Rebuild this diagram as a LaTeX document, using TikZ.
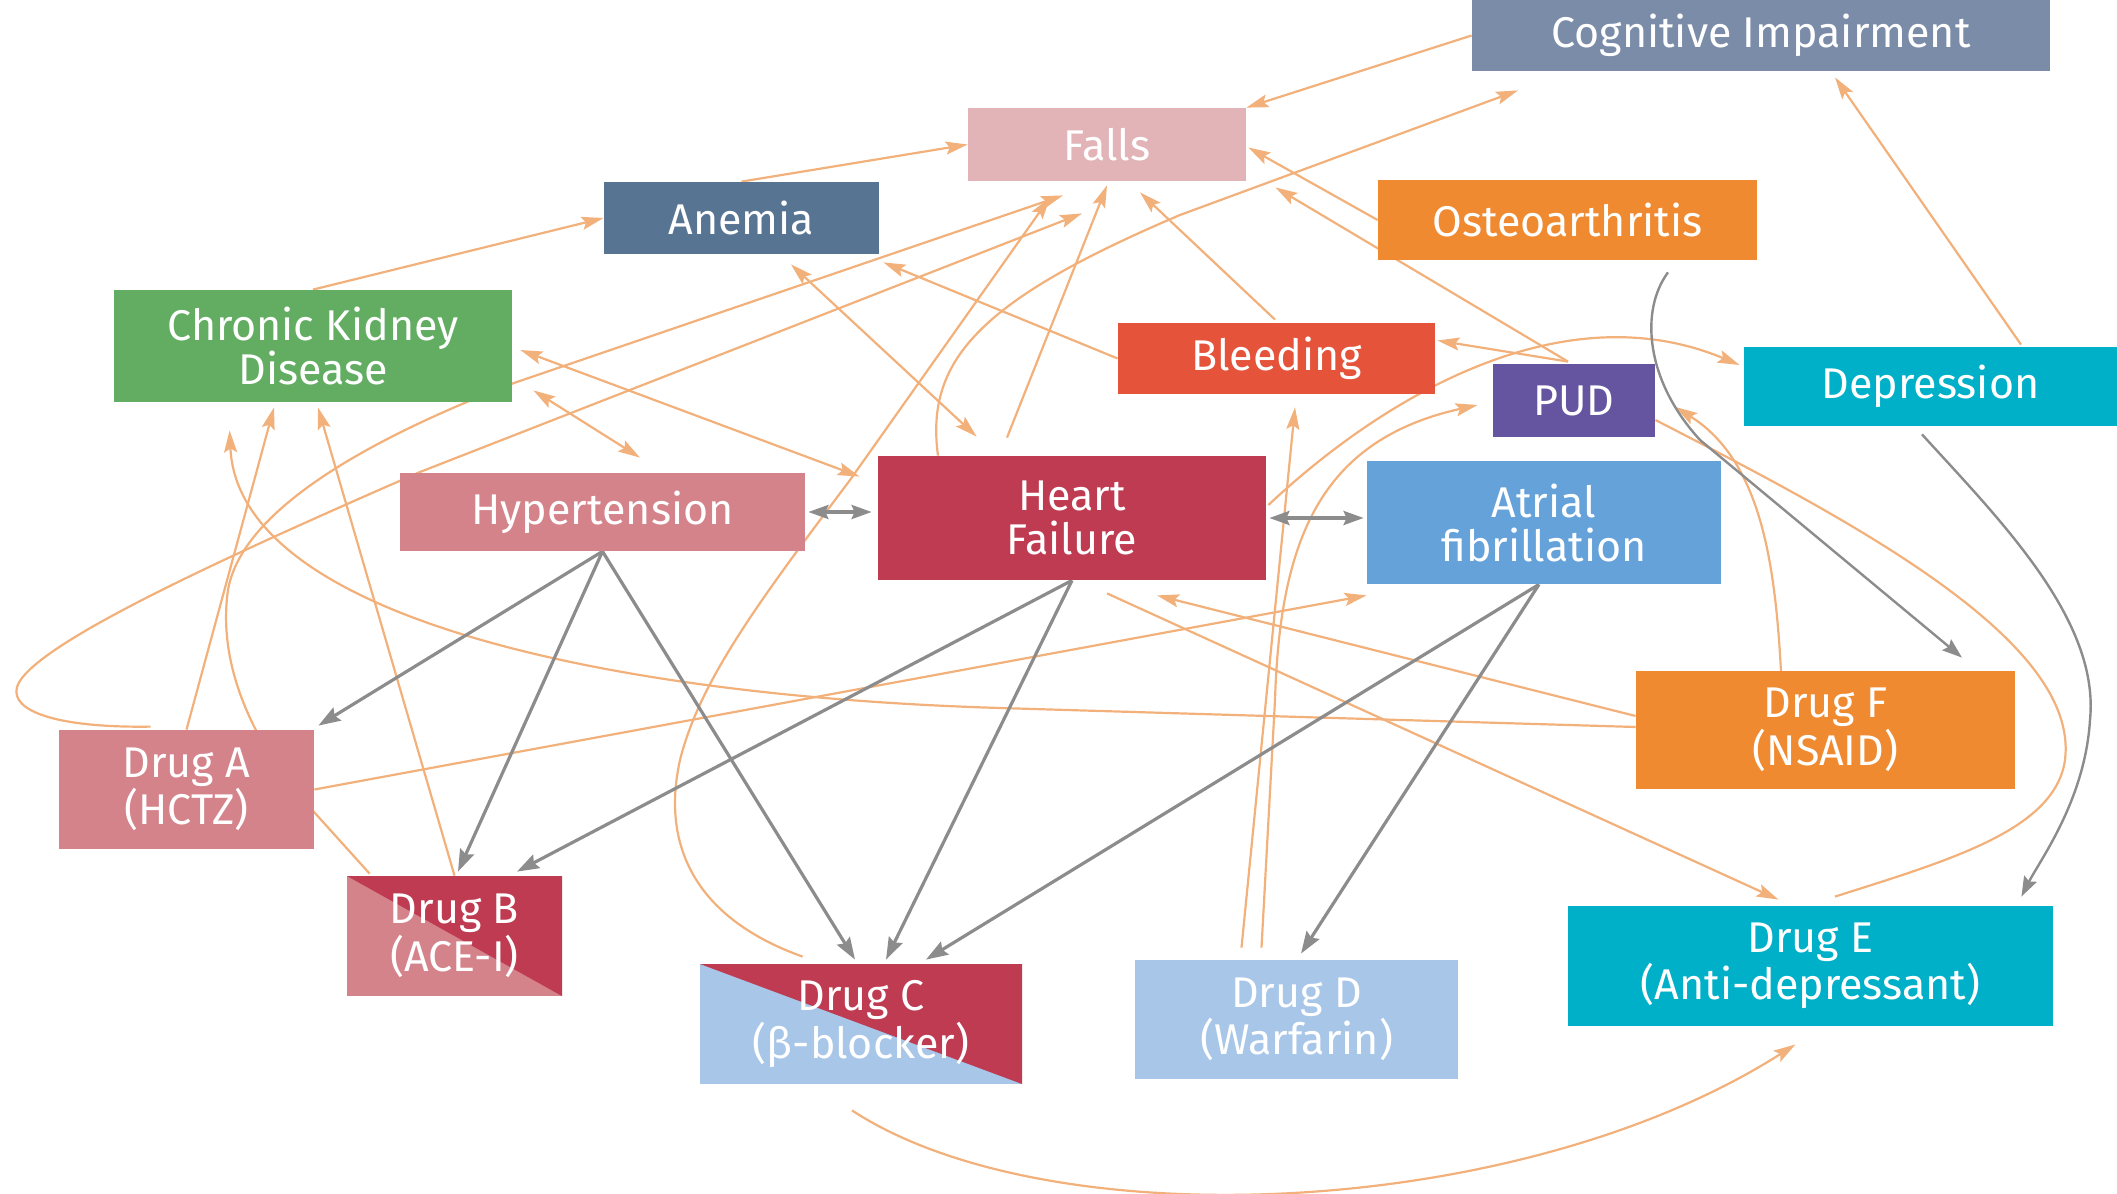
\documentclass[tikz,border=0pt]{standalone}
\usepackage{fontspec}
\setmainfont{Fira Sans}
\usetikzlibrary{arrows.meta,calc}
\pgfdeclarelayer{bg}
\pgfsetlayers{bg,main}
\definecolor{cLine}{HTML}{F2B07A}
\definecolor{cGray}{HTML}{8C8C8C}
\definecolor{cCog}{HTML}{7A8CA8}
\definecolor{cFalls}{HTML}{E2B4B8}
\definecolor{cAnemia}{HTML}{587493}
\definecolor{cOsteo}{HTML}{EF8A30}
\definecolor{cCkd}{HTML}{63AD63}
\definecolor{cBleed}{HTML}{E5533B}
\definecolor{cPud}{HTML}{6555A0}
\definecolor{cDepr}{HTML}{00B0C8}
\definecolor{cHyp}{HTML}{D4838B}
\definecolor{cHf}{HTML}{BF3B51}
\definecolor{cAf}{HTML}{64A2D9}
\definecolor{cLblue}{HTML}{A8C6E8}
\begin{document}
\begin{tikzpicture}[x=0.5pt,y=-0.5pt,
  box/.style={rectangle, inner sep=0pt, text=white, align=center,
    font=\fontsize{21.5}{22}\selectfont},
  split/.style 2 args={path picture={
    \fill[#1] (path picture bounding box.south west) rectangle (path picture bounding box.north east);
    \fill[#2] (path picture bounding box.north west) -- (path picture bounding box.north east)
      -- (path picture bounding box.south east) -- cycle;}},
  oe/.style={draw=cLine, line width=1.1pt, -{Stealth[length=11pt,width=6.5pt,inset=2pt]}},
  oeb/.style={draw=cLine, line width=1.1pt, {Stealth[length=11pt,width=6.5pt,inset=2pt]}-{Stealth[length=11pt,width=6.5pt,inset=2pt]}},
  oen/.style={draw=cLine, line width=1.1pt},
  ge/.style={draw=cGray, line width=1.6pt, -{Stealth[length=11pt,width=7.5pt,inset=1.5pt]}},
  geb/.style={draw=cGray, line width=1.6pt, {Stealth[length=10pt,width=7pt,inset=1.5pt]}-{Stealth[length=10pt,width=7pt,inset=1.5pt]}},
  gec/.style={draw=cGray, line width=1.2pt, -{Stealth[length=10pt,width=7pt,inset=1.5pt]}},
]
\useasboundingbox (0,0) rectangle (2117,1194);

% nodes
\node[box, fill=cCog, minimum width=289pt, minimum height=35.5pt] (cog) at (1761,35.5) {Cognitive Impairment};
\node[box, fill=cFalls, minimum width=139pt, minimum height=36.5pt] (falls) at (1107,144.5) {Falls};
\node[box, fill=cAnemia, minimum width=137.5pt, minimum height=36pt] (anemia) at (741.5,218) {Anemia};
\node[box, fill=cOsteo, minimum width=189.5pt, minimum height=40pt] (osteo) at (1567.5,220) {Osteoarthritis};
\node[box, fill=cCkd, minimum width=199pt, minimum height=56pt] (ckd) at (313,346) {Chronic Kidney\\Disease};
\node[box, fill=cBleed, minimum width=158.5pt, minimum height=35.5pt] (bleed) at (1276.5,358.5) {Bleeding};
\node[box, fill=cPud, minimum width=81pt, minimum height=36.5pt] (pud) at (1574,400.5) {PUD};
\node[box, fill=cDepr, minimum width=186.5pt, minimum height=39.5pt] (depr) at (1930.5,386.5) {Depression};
\node[box, fill=cHyp, minimum width=202.5pt, minimum height=39pt] (hyp) at (602.5,512) {Hypertension};
\node[box, fill=cHf, minimum width=194pt, minimum height=62pt] (hf) at (1072,518) {Heart\\Failure};
\node[box, fill=cAf, minimum width=177pt, minimum height=61.5pt] (af) at (1544,522.5) {Atrial\\fibrillation};
\node[box, fill=cHyp, minimum width=127.5pt, minimum height=59.5pt] (dA) at (186.5,789.5) {Drug A\\(HCTZ)};
\node[box, split={cHyp}{cHf}, minimum width=107.5pt, minimum height=60pt] (dB) at (454.5,936) {Drug B\\(ACE-I)};
\node[box, split={cLblue}{cHf}, minimum width=161pt, minimum height=60pt] (dC) at (861,1024) {Drug C\\(β-blocker)};
\node[box, fill=cLblue, minimum width=161.5pt, minimum height=59.5pt] (dD) at (1296.5,1019.5) {Drug D\\(Warfarin)};
\node[box, fill=cDepr, minimum width=242.5pt, minimum height=60pt] (dE) at (1810.5,966) {Drug E\\(Anti-depressant)};
\node[box, fill=cOsteo, minimum width=189.5pt, minimum height=59pt] (dF) at (1825.5,730) {Drug F\\(NSAID)};

\begin{pgfonlayer}{bg}
% orange connectors
\draw[oe] (anemia.north) -- (falls.west);
\draw[oe] (ckd.north) -- (anemia.west);
\draw[oe] (cog.west) -- (falls.north east);
\draw[oe] ($(hf.north)+(-134,0)$) .. controls (925,360) and (980,300) .. (1180,215) -- ($(cog.south)+(-243,19)$);
\draw[oe] ($(hf.north)+(-65,-18)$) -- ($(falls.south)+(0,4)$);
\draw[oe] ($(bleed.north)+(-1.5,-3)$) -- ($(falls.south)+(33,11)$);
\draw[oe] (osteo.west) -- ($(falls.east)+(2,3)$);
\draw[oe] ($(pud.north)+(-6,-2)$) -- ($(falls.south east)+(29,6)$);
\draw[oe] ($(pud.north)+(-6,-2)$) -- ($(bleed.east)+(2,-18)$);
\draw[oe] (bleed.west) -- ($(anemia.south east)+(4,8)$);
\draw[oeb] ($(anemia.south)+(49.5,10)$) -- ($(hf.north west)+(99,-19)$);
\draw[oeb] ($(ckd.east)+(8,4)$) -- ($(hf.north west)+(-18,21)$);
\draw[oeb] ($(ckd.south east)+(21,-12)$) -- ($(hyp.north)+(37.5,-15)$);
\draw[oe] (dA.north) -- ($(ckd.south)+(-39,5)$);
\draw[oe] (dB.north) -- ($(ckd.south)+(5,5)$);
\draw[oe] ($(dF.west)+(0,-3)$) -- (1000,708) .. controls (600,696) and (238,615) .. ($(ckd.south west)+(116,28)$);
\draw[oe] ($(dA.north west)+(92,-3)$) .. controls (60,728) and (10,712) .. (17,687)
  .. controls (30,645) and (230,555) .. (420,472) -- ($(falls.south)+(-25,32)$);
\draw[oe] ($(dB.north west)+(23,-2)$) -- (314,812) .. controls (270,765) and (215,680) .. (228,590)
  .. controls (240,520) and (340,450) .. (514,383) -- ($(falls.south)+(-44,14)$);
\draw[oe] ($(dC.north west)+(103,-7)$) .. controls (700,920) and (660,850) .. (680,760)
  .. controls (700,680) and (760,600) .. (850,480) -- ($(falls.south)+(-57,16)$);
\draw[oe] ($(hf.east)+(2,-13)$) .. controls (1380,400) and (1560,290) .. ($(depr.west)+(-4,-21.5)$);
\draw[oe] ($(dD.north)+(-55,-12)$) -- ($(bleed.south)+(18.5,13)$);
\draw[oe] ($(dD.north)+(-35,-12)$) -- (1275,700) .. controls (1280,540) and (1320,440) .. ($(pud.west)+(-15,4.5)$);
\draw[oe] (dA.east) -- ($(af.south west)+(0,11)$);
\draw[oe] ($(dF.west)+(0,-14)$) -- ($(hf.south)+(85,15)$);
\draw[oe] ($(hf.south)+(35,13)$) -- ($(dE.north)+(-32,-6)$);
\draw[oe] ($(dC.south)+(-9,26)$) .. controls (1050,1240) and (1520,1220) .. ($(dE.south)+(-15,18)$);
\draw[oe] ($(depr.north)+(90.5,-2)$) -- ($(cog.south)+(74,6)$);
\draw[oe] ($(dF.north)+(-44.5,1)$) .. controls (1775,560) and (1760,460) .. ($(pud.east)+(20,6.5)$);
\draw[oen] ($(pud.east)+(0,19.5)$) .. controls (1850,520) and (2080,640) .. (2065,760)
  .. controls (2055,830) and (1950,860) .. ($(dE.north)+(24.5,-9)$);
% gray connectors
\draw[geb] ($(hyp.east)+(3,0)$) -- ($(hf.west |- hyp.east)+(-6,0)$);
\draw[geb] ($(hf.east)+(3,0)$) -- ($(af.west |- hf.east)+(-3,0)$);
\draw[ge] (hyp.south) -- ($(dA.north east)+(4,-4)$);
\draw[ge] (hyp.south) -- ($(dB.north)+(3.5,-4)$);
\draw[ge] (hyp.south) -- ($(dC.north)+(-6,-4)$);
\draw[ge] (hf.south) -- ($(dB.north)+(62.5,-4)$);
\draw[ge] (hf.south) -- ($(dC.north)+(25,-4)$);
\draw[ge] ($(af.south)+(-5,0)$) -- ($(dC.north)+(65,-4)$);
\draw[ge] ($(af.south)+(-5,0)$) -- ($(dD.north)+(4.5,-6)$);
\draw[gec] ($(osteo.south)+(100.5,12)$) .. controls (1640,310) and (1645,380) .. (1700,440) -- ($(dF.north)+(136.5,-13)$);
\draw[gec] ($(depr.south)+(-8.5,8)$) .. controls (2000,520) and (2100,620) .. (2090,720)
  .. controls (2085,800) and (2040,860) .. ($(dE.north east)+(-32,-9)$);
\end{pgfonlayer}
\end{tikzpicture}
\end{document}
